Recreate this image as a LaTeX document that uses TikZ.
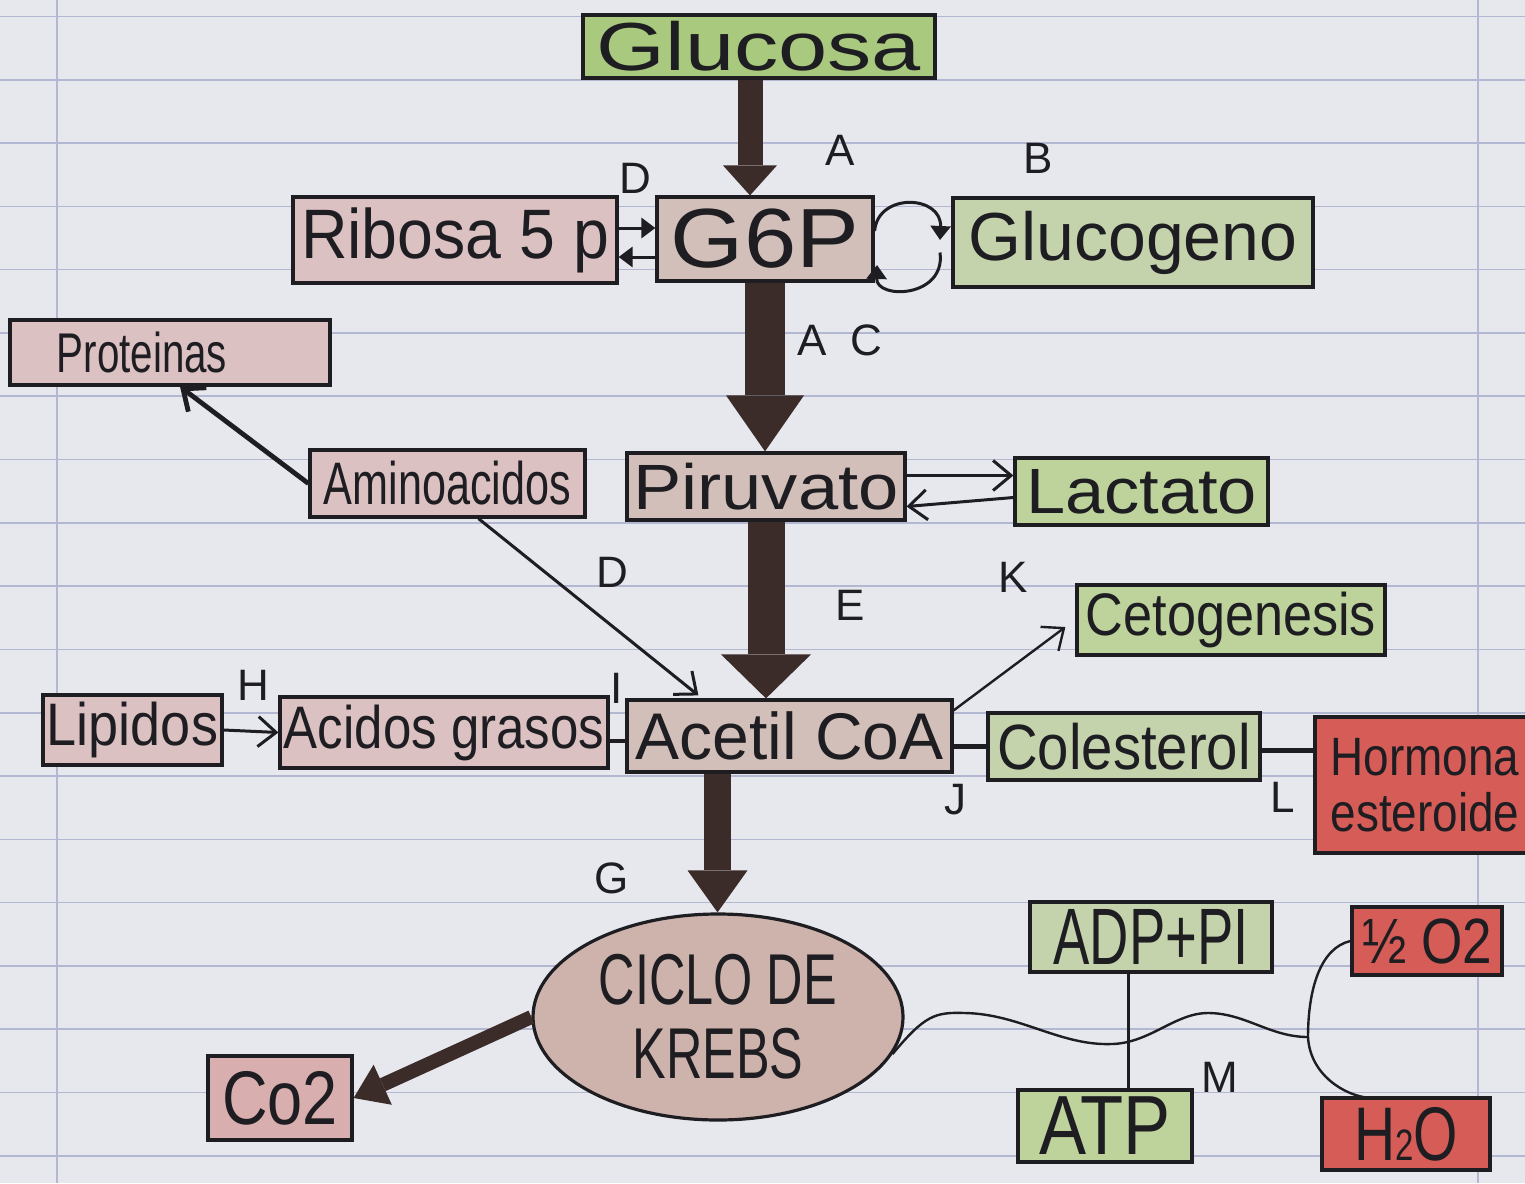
\documentclass[tikz,border=0pt]{standalone}
\usepackage{fontspec}
\setmainfont{Liberation Sans}
\usepackage{graphicx}
\usetikzlibrary{shapes.geometric,arrows.meta,calc}
\definecolor{paper}{HTML}{E7E8ED}
\definecolor{rule}{HTML}{B3B8D2}
\definecolor{ink}{HTML}{1E1E22}
\definecolor{fat}{HTML}{3B2C2A}
\definecolor{gGlu}{HTML}{A9C97F}
\definecolor{gPale}{HTML}{C5D3AD}
\definecolor{gMid}{HTML}{BDD39B}
\definecolor{pRose}{HTML}{DCC1C3}
\definecolor{pCo}{HTML}{D9AEAE}
\definecolor{bBrown}{HTML}{D3BFB9}
\definecolor{bKrebs}{HTML}{CDB3AB}
\definecolor{rRed}{HTML}{D55C57}
\newcommand\hw[3]{\scalebox{#1}[1]{\fontsize{#2}{#2}\selectfont #3}}
\tikzset{
  box/.style={draw=ink, line width=1.6pt, inner sep=0pt, text=ink},
  pen/.style={draw=ink, line width=1.5pt},
  barb/.style={pen, -{Straight Barb[length=9pt,width=15pt]}},
  smalltri/.style={pen, -{Triangle[length=7pt,width=10pt]}},
  fatarrow/.style n args={3}{draw=fat, line width=#1, -{Triangle[width=#2,length=#3,line width=0pt]}},
  lab/.style={font=\fontsize{22pt}{22pt}\selectfont, text=ink, inner sep=0pt},
  ruled/.style={draw=rule, line width=0.8pt}
}
\begin{document}
\begin{tikzpicture}[x=0.5pt,y=-0.5pt]
\clip (0,0) rectangle (1525,1183);
\fill[paper] (0,0) rectangle (1525,1183);
\foreach \k in {-2,...,16} \draw[ruled] (0,{143+63.3*\k}) -- (1525,{143+63.3*\k});
\draw[ruled] (57,0) -- (57,1183);
\draw[ruled] (1478,0) -- (1478,1183);

% boxes
\node[box,fill=gGlu,minimum width=176pt,minimum height=31.5pt] (glucosa) at (759,46.5) {\hw{1.3}{34pt}{Glucosa}};
\node[box,fill=pRose,minimum width=162pt,minimum height=43pt] (ribosa) at (455,240) {\hw{0.92}{35pt}{Ribosa 5 p}};
\node[box,fill=bBrown,minimum width=108pt,minimum height=42pt] (g6p) at (765,239) {\hw{1.12}{42pt}{G6P}};
\node[box,fill=gPale,minimum width=180pt,minimum height=44.5pt] (glucogeno) at (1133,242.5) {\hw{1.0}{34pt}{Glucogeno}};
\node[box,fill=pRose,minimum width=160pt,minimum height=32.5pt] (proteinas) at (170,352.5) {\hw{0.72}{28pt}{Proteinas}\kern28pt\relax};
\node[box,fill=pRose,minimum width=137.5pt,minimum height=33.5pt] (amino) at (447.5,483.5) {\hw{0.72}{30pt}{Aminoacidos}};
\node[box,fill=bBrown,minimum width=139pt,minimum height=33.5pt] (piruvato) at (766,486.5) {\hw{1.13}{32pt}{Piruvato}};
\node[box,fill=gMid,minimum width=126.5pt,minimum height=33.5pt] (lactato) at (1141.5,491.5) {\hw{1.1}{32pt}{Lactato}};
\node[box,fill=gMid,minimum width=154pt,minimum height=35pt] (ceto) at (1231,620) {\hw{0.87}{30pt}{Cetogenesis}};
\node[box,fill=pRose,minimum width=89.5pt,minimum height=35pt] (lipidos) at (132.5,730) {\hw{0.9}{30pt}{Lipidos}};
\node[box,fill=pRose,minimum width=164pt,minimum height=35.5pt] (acidos) at (444,732.5) {\hw{0.85}{30pt}{Acidos grasos}};
\node[box,fill=bBrown,minimum width=162.5pt,minimum height=36pt] (acetil) at (789.5,736) {\hw{1.0}{33pt}{Acetil CoA}};
\node[box,fill=gPale,minimum width=136pt,minimum height=33.5pt] (colesterol) at (1124,746.5) {\hw{0.88}{32pt}{Colesterol}};
\node[box,fill=rRed,minimum width=110pt,minimum height=68pt,align=left,font=\fontsize{28pt}{28pt}\selectfont] (hormona) at (1425,785) {\hw{0.85}{27pt}{Hormona}\\\hw{0.85}{27pt}{esteroide}};
\node[box,ellipse,fill=bKrebs,minimum width=185pt,minimum height=103pt,align=center,font=\fontsize{36pt}{37pt}\selectfont] (krebs) at (718,1017) {\hw{0.7}{36pt}{CICLO DE}\\\hw{0.7}{36pt}{KREBS}};
\node[box,fill=pCo,minimum width=72pt,minimum height=42pt] (co2) at (280,1098) {\hw{0.83}{38pt}{Co2}};
\node[box,fill=gPale,minimum width=121pt,minimum height=35pt] (adp) at (1151,937) {\hw{0.68}{40pt}{ADP+PI}};
\node[box,fill=rRed,minimum width=75pt,minimum height=34pt] (o2) at (1427,941) {\hw{0.83}{32pt}{½ O2}};
\node[box,fill=gMid,minimum width=87pt,minimum height=36pt] (atp) at (1105,1126) {\hw{0.84}{42pt}{ATP}};
\node[box,fill=rRed,minimum width=84pt,minimum height=36pt] (h2o) at (1406,1134) {\hw{0.75}{38pt}{H{\fontsize{22pt}{22pt}\selectfont 2}O}};

% letter labels
\node[lab] (lA) at (840,150) {A};
\node[lab] (lB) at (1038,158) {B};
\node[lab] (lD1) at (635,178) {D};
\node[lab] (lAC) at (840,340) {A\hspace{12pt}C};
\node[lab] (lD2) at (612,572) {D};
\node[lab] (lE) at (850,605) {E};
\node[lab] (lK) at (1013,577) {K};
\node[lab] (lH) at (253,685) {H};
\node[lab] (lI) at (617,688) {I};
\node[lab] (lJ) at (955,800) {J};
\node[lab] (lG) at (612,878) {G};
\node[lab] (lL) at (1283,797) {L};
\node[lab] (lM) at (1220,1077) {M};

% thick arrows
\draw[fatarrow={12.5pt}{27pt}{15pt}] ($(glucosa.south)+(-9,0)$) -- ($(glucosa.south |- g6p.north)+(-9,0)$);
\draw[fatarrow={20pt}{39pt}{28pt}] (g6p.south) -- (g6p.south |- piruvato.north);
\draw[fatarrow={18.5pt}{45pt}{22pt}] (piruvato.south) -- (piruvato.south |- acetil.north);
\draw[fatarrow={13.5pt}{30pt}{21pt}] ($(acetil.south)+(-72,0)$) -- ($(acetil.south |- krebs.north)+(-72,0)$);
\draw[fatarrow={7pt}{22pt}{16pt}] (krebs.west) -- (co2.east);

% thin connectors
\draw[smalltri] ([yshift=6pt]ribosa.east) -- ([yshift=6pt]ribosa.east -| g6p.west);
\draw[smalltri] ([yshift=-9pt]g6p.west) -- ([yshift=-9pt]g6p.west -| ribosa.east);
\coordinate (loopA) at (940,240);
\coordinate (loopB) at (877,265);
\draw[smalltri] ([yshift=4pt]g6p.east) .. controls (878,192) and (942,195) .. (loopA);
\draw[smalltri] ([yshift=-5pt]glucogeno.west -| loopA) .. controls (946,298) and (876,300) .. (loopB);
\draw[barb, line width=2.4pt] (amino.west) -- ($(proteinas.south)+(10,0)$);
\draw[barb] ($(amino.south)+(31,0)$) -- ($(acetil.north west)+(73,-3)$);
\draw[barb] ([yshift=5.5pt]piruvato.east) -- ([yshift=5.5pt]piruvato.east -| lactato.west);
\draw[barb] ([yshift=-3pt]lactato.west) -- ([yshift=-10pt]piruvato.east);
\draw[barb, line width=1.2pt] ([yshift=-6pt]acetil.north east) -- ($(ceto.west)+(-10,7)$);
\draw[barb] (lipidos.east) -- (acidos.west);
\draw[pen, line width=2pt] ([yshift=-4pt]acidos.east) -- ([yshift=-4pt]acidos.east -| acetil.west);
\draw[pen, line width=2.4pt] (acetil.east |- colesterol) -- (colesterol.west);
\draw[pen, line width=2.4pt] ([yshift=-2pt]colesterol.east) -- ([yshift=-2pt]colesterol.east -| hormona.west);
\draw[pen] ($(adp.south)+(-23,0)$) -- ($(atp.north)+(23,0)$);
\coordinate (join) at (1308,1037);
\coordinate (h2otop) at (1370,1098);
\draw[pen, line width=1.2pt] (krebs.-12) .. controls (925,1015) and (935,1012) .. (965,1013)
  .. controls (1020,1014) and (1060,1046) .. (1112,1044)
  .. controls (1150,1043) and (1175,1013) .. (1208,1013)
  .. controls (1245,1013) and (1270,1037) .. (join);
\draw[pen, line width=1.2pt] (o2.west) .. controls (1320,948) and (1308,990) .. (join)
  .. controls (1310,1075) and (1345,1096) .. (h2otop);
\end{tikzpicture}
\end{document}
